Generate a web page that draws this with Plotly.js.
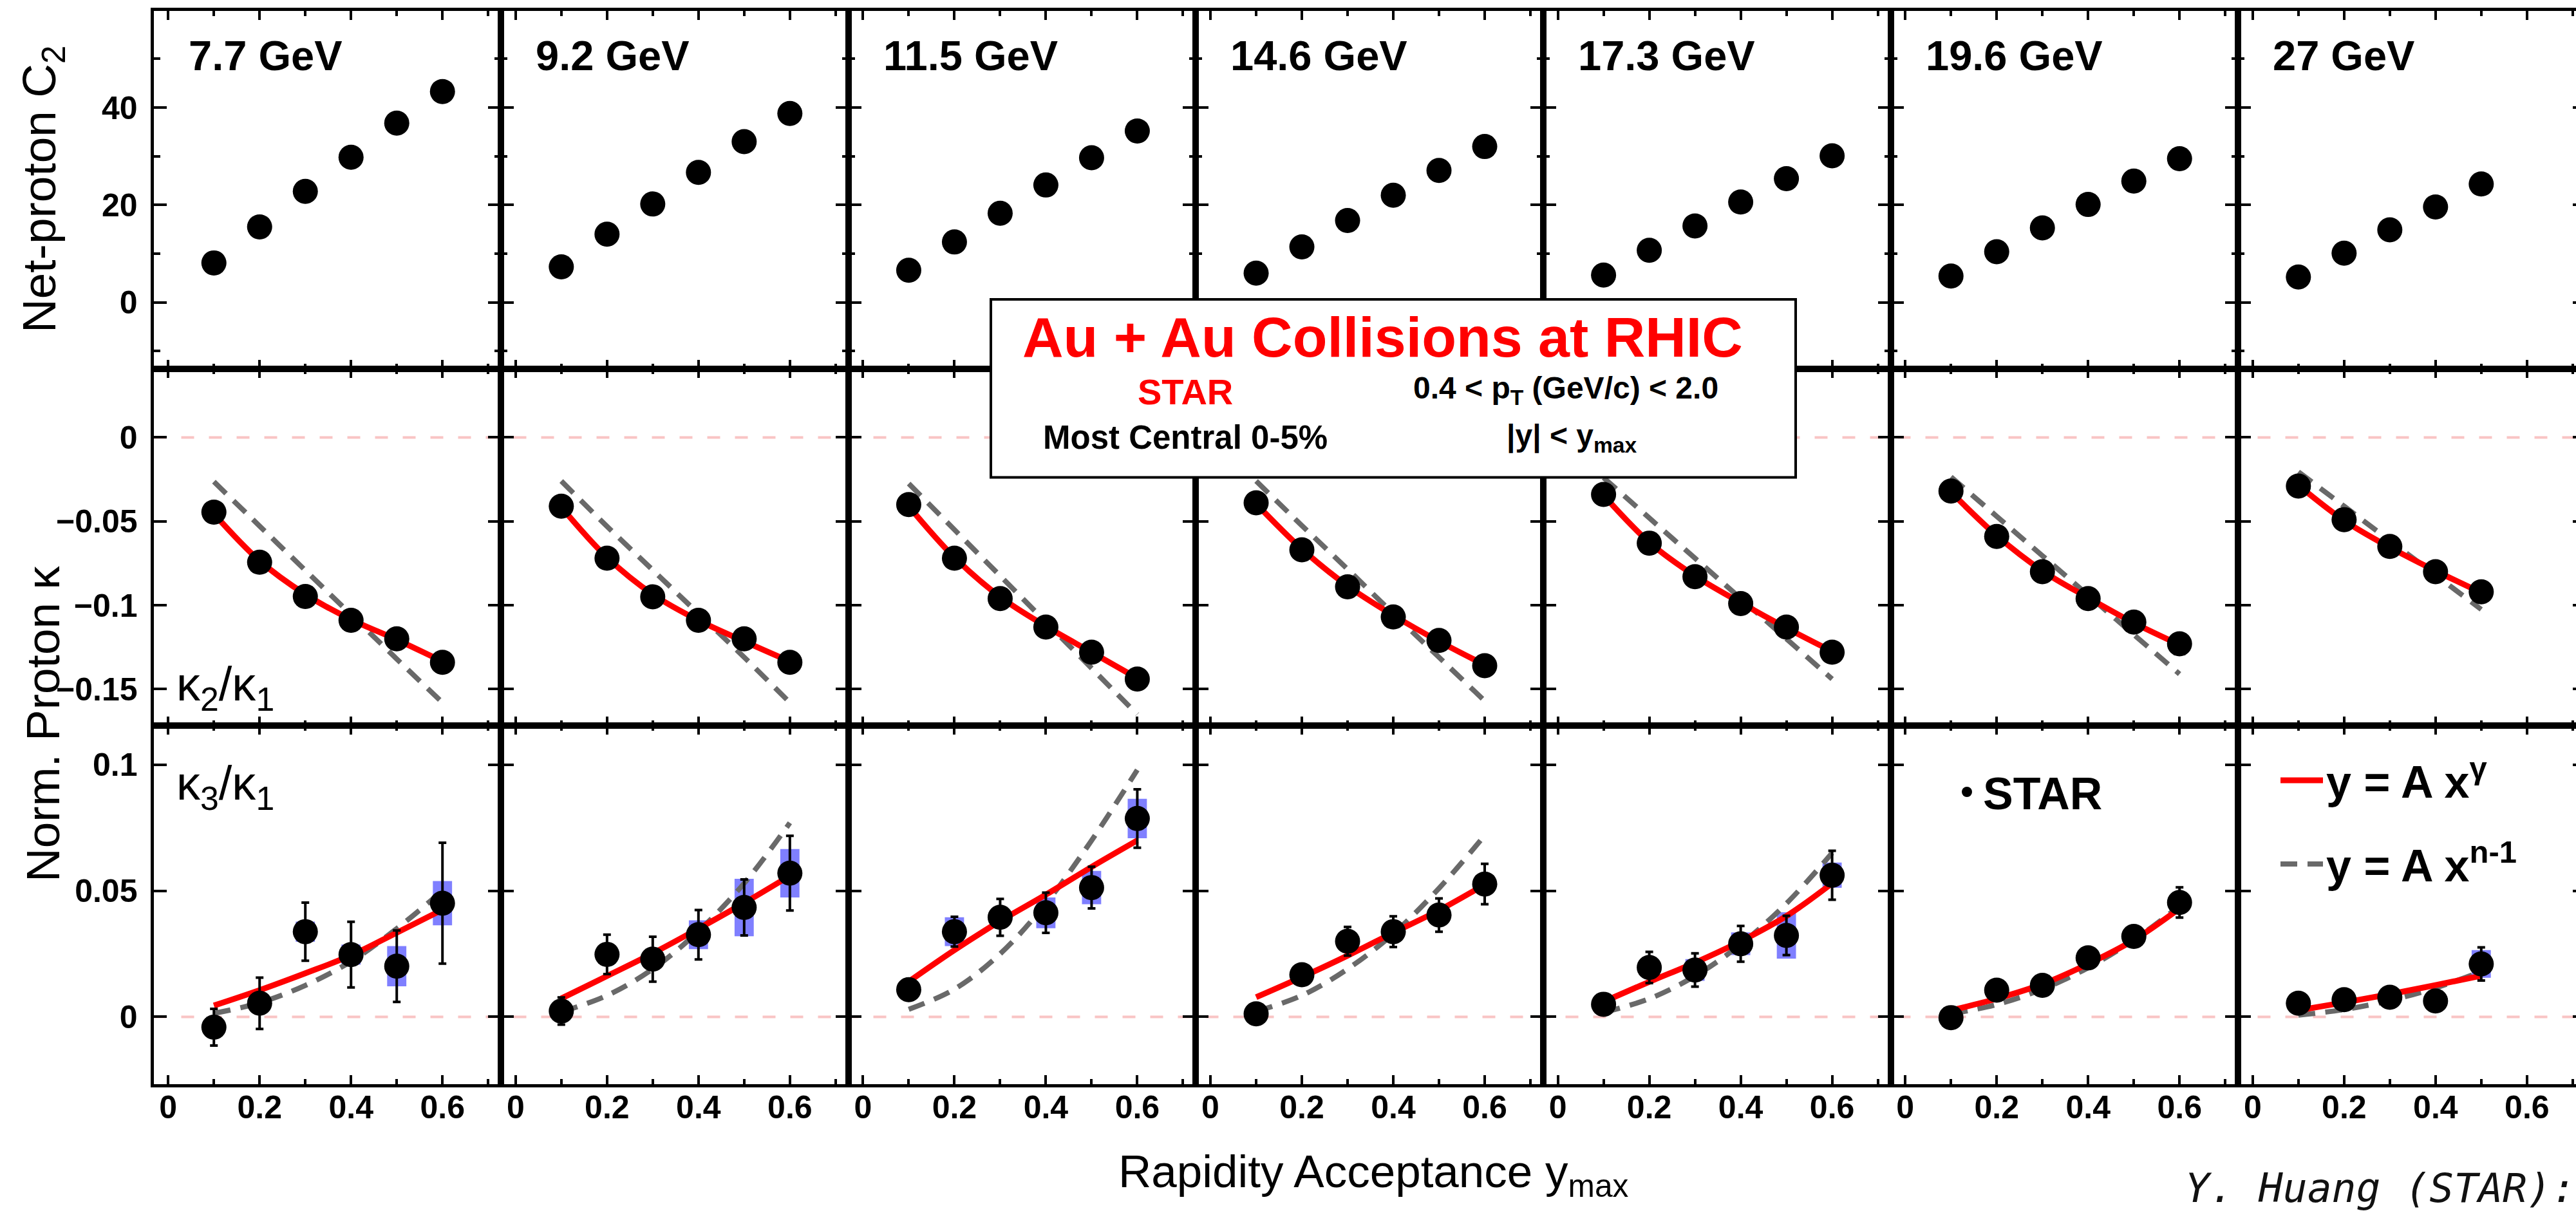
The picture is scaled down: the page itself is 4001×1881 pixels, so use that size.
<!DOCTYPE html>
<html><head><meta charset="utf-8">
<script src="https://cdn.plot.ly/plotly-3.0.1.min.js"></script>
<style>
html,body{margin:0;padding:0;background:#fff;overflow:hidden}
#wrap{width:4001px;height:1881px;overflow:hidden;position:relative}
#plot{width:4020px;height:1881px}
</style>
</head><body><div id="wrap"><div id="plot"></div></div>
<script>
// ---------------- DATA ----------------
const energies = ['7.7 GeV','9.2 GeV','11.5 GeV','14.6 GeV','17.3 GeV','19.6 GeV','27 GeV'];
const yMax6 = [0.1, 0.2, 0.3, 0.4, 0.5, 0.6];
const yMax5 = [0.1, 0.2, 0.3, 0.4, 0.5];

// Net-proton C2
const c2_7p7  = [8.1, 15.5, 22.8, 29.8, 36.8, 43.3];
const c2_9p2  = [7.3, 14.0, 20.2, 26.7, 33.0, 38.8];
const c2_11p5 = [6.6, 12.4, 18.3, 24.1, 29.7, 35.2];
const c2_14p6 = [6.0, 11.4, 16.8, 22.0, 27.1, 32.0];
const c2_17p3 = [5.6, 10.7, 15.7, 20.6, 25.4, 30.1];
const c2_19p6 = [5.4, 10.4, 15.3, 20.1, 24.9, 29.5];
const c2_27   = [5.2, 10.1, 14.9, 19.6, 24.3];

// Proton kappa2/kappa1 : data, fit y=A x^gamma (red), fit y=A x^(n-1) (dashed)
const k21_7p7  = [-0.0445, -0.0744, -0.0948, -0.109, -0.120, -0.134];
const k21_9p2  = [-0.041, -0.072, -0.095, -0.109, -0.120, -0.134];
const k21_11p5 = [-0.040, -0.072, -0.096, -0.113, -0.128, -0.144];
const k21_14p6 = [-0.039, -0.067, -0.089, -0.107, -0.121, -0.136];
const k21_17p3 = [-0.034, -0.063, -0.083, -0.099, -0.113, -0.128];
const k21_19p6 = [-0.032, -0.059, -0.080, -0.096, -0.110, -0.123];
const k21_27   = [-0.029, -0.049, -0.065, -0.080, -0.092];

const k21g_7p7  = [-0.0455, -0.0735, -0.0935, -0.1085, -0.1205, -0.1335];
const k21g_9p2  = [-0.0415, -0.0715, -0.0935, -0.109, -0.1215, -0.1335];
const k21g_11p5 = [-0.041, -0.0715, -0.095, -0.1125, -0.128, -0.1435];
const k21g_14p6 = [-0.0395, -0.0665, -0.0885, -0.106, -0.1215, -0.1355];
const k21g_17p3 = [-0.0345, -0.0625, -0.0825, -0.0985, -0.1135, -0.1275];
const k21g_19p6 = [-0.0325, -0.0585, -0.0795, -0.0955, -0.1105, -0.1235];
const k21g_27   = [-0.0285, -0.0495, -0.0655, -0.0795, -0.0925];

const k21n_7p7  = [-0.0264, -0.0528, -0.0792, -0.1056, -0.132, -0.158];
const k21n_9p2  = [-0.026, -0.053, -0.079, -0.105, -0.131, -0.158];
const k21n_11p5 = [-0.0275, -0.055, -0.0825, -0.110, -0.1375, -0.165];
const k21n_14p6 = [-0.026, -0.0525, -0.0785, -0.105, -0.131, -0.157];
const k21n_17p3 = [-0.024, -0.048, -0.072, -0.096, -0.120, -0.144];
const k21n_19p6 = [-0.0235, -0.047, -0.0705, -0.094, -0.1175, -0.141];
const k21n_27   = [-0.0205, -0.041, -0.0615, -0.082, -0.1025];

// Proton kappa3/kappa1 : data, stat. error, sys. error, fits
const k31_7p7  = [-0.0041, 0.0054, 0.0338, 0.0247, 0.0201, 0.0451];
const k31_9p2  = [0.0023, 0.0248, 0.0229, 0.0326, 0.0434, 0.057];
const k31_11p5 = [0.0108, 0.0338, 0.0395, 0.0413, 0.0513, 0.0787];
const k31_14p6 = [0.0012, 0.0167, 0.030, 0.0338, 0.0404, 0.0527];
const k31_17p3 = [0.005, 0.0196, 0.0186, 0.029, 0.0323, 0.0562];
const k31_19p6 = [-0.0003, 0.0106, 0.0125, 0.0234, 0.0319, 0.0454];
const k31_27   = [0.0054, 0.0068, 0.0078, 0.0063, 0.021];

const k31stat_7p7  = [0.0073, 0.0102, 0.0115, 0.013, 0.0142, 0.024];
const k31stat_9p2  = [0.0054, 0.0078, 0.0089, 0.0098, 0.0111, 0.0148];
const k31stat_11p5 = [0.002, 0.0059, 0.0073, 0.008, 0.0083, 0.0116];
const k31stat_14p6 = [0.002, 0.003, 0.0057, 0.0061, 0.0066, 0.008];
const k31stat_17p3 = [0.002, 0.0062, 0.0066, 0.0071, 0.0078, 0.0097];
const k31stat_19p6 = [0.002, 0.002, 0.0025, 0.003, 0.004, 0.006];
const k31stat_27   = [0.002, 0.002, 0.0025, 0.003, 0.0066];

const k31sys_7p7  = [0.001, 0.001, 0.004, 0.004, 0.008, 0.0088];
const k31sys_9p2  = [0.001, 0.001, 0.001, 0.0057, 0.0114, 0.0096];
const k31sys_11p5 = [0.001, 0.0057, 0.001, 0.0061, 0.0066, 0.0078];
const k31sys_14p6 = [0.001, 0.001, 0.001, 0.001, 0.003, 0.001];
const k31sys_17p3 = [0.001, 0.001, 0.0043, 0.0045, 0.0092, 0.005];
const k31sys_19p6 = [0.001, 0.001, 0.001, 0.001, 0.001, 0.003];
const k31sys_27   = [0.001, 0.003, 0.001, 0.003, 0.0055];

const k31g_7p7  = [0.0045, 0.0106, 0.0173, 0.0244, 0.0334, 0.0425];
const k31g_9p2  = [0.0073, 0.0162, 0.0252, 0.035, 0.0452, 0.056];
const k31g_11p5 = [0.014, 0.0265, 0.038, 0.0485, 0.0595, 0.070];
const k31g_14p6 = [0.0078, 0.0158, 0.0243, 0.0334, 0.0423, 0.0525];
const k31g_17p3 = [0.006, 0.0139, 0.0215, 0.030, 0.040, 0.053];
const k31g_19p6 = [0.0026, 0.0072, 0.013, 0.021, 0.0305, 0.043];
const k31g_27   = [0.0026, 0.0057, 0.009, 0.0126, 0.0163];

const k31n_7p7  = [0.0014, 0.0056, 0.0125, 0.022, 0.035, 0.050];
const k31n_9p2  = [0.002, 0.0085, 0.019, 0.034, 0.053, 0.077];
const k31n_11p5 = [0.003, 0.011, 0.025, 0.045, 0.070, 0.098];
const k31n_14p6 = [0.0022, 0.0085, 0.019, 0.033, 0.051, 0.072];
const k31n_17p3 = [0.0018, 0.0072, 0.0162, 0.0288, 0.045, 0.065];
const k31n_19p6 = [0.0012, 0.0049, 0.011, 0.0195, 0.0305, 0.044];
const k31n_27   = [0.0007, 0.0029, 0.0065, 0.0115, 0.018];

const xPoints = [yMax6, yMax6, yMax6, yMax6, yMax6, yMax6, yMax5];
const C2   = [c2_7p7, c2_9p2, c2_11p5, c2_14p6, c2_17p3, c2_19p6, c2_27];
const K21  = [k21_7p7, k21_9p2, k21_11p5, k21_14p6, k21_17p3, k21_19p6, k21_27];
const K21G = [k21g_7p7, k21g_9p2, k21g_11p5, k21g_14p6, k21g_17p3, k21g_19p6, k21g_27];
const K21N = [k21n_7p7, k21n_9p2, k21n_11p5, k21n_14p6, k21n_17p3, k21n_19p6, k21n_27];
const K31  = [k31_7p7, k31_9p2, k31_11p5, k31_14p6, k31_17p3, k31_19p6, k31_27];
const K31S = [k31stat_7p7, k31stat_9p2, k31stat_11p5, k31stat_14p6, k31stat_17p3, k31stat_19p6, k31stat_27];
const K31Y = [k31sys_7p7, k31sys_9p2, k31sys_11p5, k31sys_14p6, k31sys_17p3, k31sys_19p6, k31sys_27];
const K31G = [k31g_7p7, k31g_9p2, k31g_11p5, k31g_14p6, k31g_17p3, k31g_19p6, k31g_27];
const K31N = [k31n_7p7, k31n_9p2, k31n_11p5, k31n_14p6, k31n_17p3, k31n_19p6, k31n_27];

// ---------------- LAYOUT ----------------
const FONT = 'Liberation Sans, Arial, Helvetica, sans-serif';
const W = 4020, H = 1881;
const PL = 238.5, PW = 539.6;
const rowEdges = [[16.6, 572.5], [572.5, 1126.5], [1126.5, 1684]];
const yRanges = [[-13.6, 59.9], [-0.1715, 0.041], [-0.0267, 0.1157]];
const xRange = [-0.032, 0.728];
const px = p => p / W;
const py = p => 1 - p / H;

const RED = 'rgb(255,0,0)', GREY = 'rgb(105,105,105)', SYS = 'rgba(95,95,255,0.8)';
const layout = {
  width: W, height: H, margin: {l: 0, r: 0, t: 0, b: 0},
  paper_bgcolor: 'white', plot_bgcolor: 'rgba(0,0,0,0)',
  barmode: 'overlay', showlegend: true,
  font: {family: FONT, color: 'black'},
  annotations: [], shapes: [],
  legend: {x: px(3030), y: py(1178), xanchor: 'left', yanchor: 'top', bgcolor: 'rgba(0,0,0,0)',
           borderwidth: 0, itemwidth: 40, font: {family: FONT, size: 70, weight: 'bold', color: 'black'}},
  legend2: {x: px(3537), y: py(1160), xanchor: 'left', yanchor: 'top', bgcolor: 'rgba(0,0,0,0)',
            borderwidth: 0, itemwidth: 66, traceorder: 'grouped', tracegroupgap: 36,
            font: {family: FONT, size: 70, weight: 'bold', color: 'black'}}
};
const traces = [];

for (let r = 0; r < 3; r++) {
  for (let c = 0; c < 7; c++) {
    const k = r * 7 + c + 1;
    const sfx = k === 1 ? '' : String(k);
    const xid = 'x' + sfx, yid = 'y' + sfx;
    layout['xaxis' + sfx] = {
      domain: [px(PL + PW * c), px(PL + PW * (c + 1))], range: xRange, anchor: yid,
      showline: true, linewidth: 5, linecolor: 'black', mirror: 'ticks',
      ticks: 'inside', ticklen: 14, tickwidth: 4, tickcolor: 'black', tick0: 0, dtick: 0.2,
      minor: {ticks: 'inside', ticklen: 8, tickwidth: 4, dtick: 0.1, tickcolor: 'black'},
      showgrid: false, zeroline: false, showticklabels: r === 2, ticklabelstandoff: -12,
      tickfont: {family: FONT, size: 50, weight: 'bold', color: 'black'}, fixedrange: true
    };
    const yax = {
      domain: [py(rowEdges[r][1]), py(rowEdges[r][0])], range: yRanges[r], anchor: xid,
      showline: true, linewidth: 5, linecolor: 'black', mirror: 'ticks',
      ticks: 'inside', ticklen: 20, tickwidth: 4, tickcolor: 'black', tick0: 0,
      dtick: r === 0 ? 20 : 0.05,
      showgrid: false, zeroline: false, showticklabels: c === 0, ticklabelstandoff: 10,
      tickfont: {family: FONT, size: 50, weight: 'bold', color: 'black'}, fixedrange: true
    };
    if (r === 0) yax.minor = {ticks: 'inside', ticklen: 10, tickwidth: 4, dtick: 10, tickcolor: 'black'};
    layout['yaxis' + sfx] = yax;

    const xs = xPoints[c];
    const mk = {color: 'black', size: 39};
    if (r === 0) {
      traces.push({type: 'scatter', mode: 'markers', x: xs, y: C2[c], xaxis: xid, yaxis: yid,
                   marker: mk, showlegend: false});
    } else if (r === 1) {
      traces.push({type: 'scatter', mode: 'lines', x: xs, y: K21N[c], xaxis: xid, yaxis: yid,
                   line: {color: GREY, width: 8, dash: '26px,16px', shape: 'spline'}, showlegend: false});
      traces.push({type: 'scatter', mode: 'lines', x: xs, y: K21G[c], xaxis: xid, yaxis: yid,
                   line: {color: RED, width: 9, shape: 'spline'}, showlegend: false});
      traces.push({type: 'scatter', mode: 'markers', x: xs, y: K21[c], xaxis: xid, yaxis: yid,
                   marker: mk, showlegend: false});
    } else {
      const base = K31[c].map((v, i) => v - K31Y[c][i]);
      const hgt = K31Y[c].map(v => 2 * v);
      traces.push({type: 'bar', x: xs, y: hgt, base: base, width: 0.042, xaxis: xid, yaxis: yid,
                   marker: {color: SYS, line: {width: 0}}, showlegend: false, hoverinfo: 'skip'});
      traces.push({type: 'scatter', mode: 'lines', x: xs, y: K31N[c], xaxis: xid, yaxis: yid,
                   name: 'y = A x<sup>n-1</sup>', legend: 'legend2', legendgroup: 'gn', legendrank: 2,
                   line: {color: GREY, width: 8, dash: '26px,16px', shape: 'spline'}, showlegend: c === 6});
      traces.push({type: 'scatter', mode: 'lines', x: xs, y: K31G[c], xaxis: xid, yaxis: yid,
                   name: 'y = A x<sup>γ</sup>', legend: 'legend2', legendgroup: 'gg', legendrank: 1,
                   line: {color: RED, width: 9, shape: 'spline'}, showlegend: c === 6});
      traces.push({type: 'scatter', mode: 'markers', x: xs, y: K31[c], xaxis: xid, yaxis: yid,
                   name: 'STAR', legend: 'legend',
                   marker: mk, showlegend: c === 5,
                   error_y: {type: 'data', array: K31S[c], color: 'black', thickness: 4, width: 6}});
    }
  }
}
energies.forEach((e, c) => {
  layout.annotations.push({xref: 'paper', yref: 'paper', x: px(PL + PW * c + 52), y: py(87),
    xanchor: 'left', yanchor: 'middle', showarrow: false, text: '<b>' + e + '</b>',
    font: {family: FONT, size: 65, color: 'black'}});
});

// zero reference lines
['y8', 'y15'].forEach(yr => {
  layout.shapes.push({type: 'line', xref: 'paper', yref: yr, x0: px(PL), x1: 1, y0: 0, y1: 0,
    layer: 'below', line: {color: 'rgb(249,196,196)', width: 4, dash: '20px,23px'}});
});

// central info box
layout.shapes.push({type: 'rect', xref: 'paper', yref: 'paper', x0: px(1539), x1: px(2789),
  y0: py(741.5), y1: py(465), fillcolor: 'white', line: {color: 'black', width: 4}, layer: 'above'});

const ann = (x, y, text, size, opts) => Object.assign({xref: 'paper', yref: 'paper', x: px(x), y: py(y),
  text: text, showarrow: false, xanchor: 'center', yanchor: 'middle',
  font: {family: FONT, size: size, color: 'black'}}, opts || {});

layout.annotations.push(
  ann(2147.5, 523, '<b>Au + Au Collisions at RHIC</b>', 88, {font: {family: FONT, size: 88, color: 'rgb(255,0,0)'}}),
  ann(1841, 608, '<b>STAR</b>', 56, {font: {family: FONT, size: 56, color: 'rgb(255,0,0)'}}),
  ann(1841, 679, '<b>Most Central 0-5%</b>', 51),
  ann(2193, 606, '<b>0.4 &lt; p<sub>T</sub> (GeV/c) &lt; 2.0</b>', 48, {xanchor: 'left'}),
  ann(2338, 680, '<b>|y| &lt; y<sub>max</sub></b>', 48, {xanchor: 'left'}),
  ann(272, 1068, 'κ<sub>2</sub>/κ<sub>1</sub>', 74, {xanchor: 'left'}),
  ann(272, 1222, 'κ<sub>3</sub>/κ<sub>1</sub>', 74, {xanchor: 'left'}),
  ann(66, 294, 'Net-proton C<sub>2</sub>', 73, {textangle: -90}),
  ann(66, 1125, 'Norm. Proton κ', 73, {textangle: -90}),
  ann(1735, 1825, 'Rapidity Acceptance y<sub>max</sub>', 71, {xanchor: 'left'}),
  ann(3392, 1845, 'Y. Huang (STAR):', 63, {xanchor: 'left',
      font: {family: 'DejaVu Sans Mono, monospace', size: 63, style: 'italic', color: '#111'}})
);

Plotly.newPlot('plot', traces, layout, {displayModeBar: false, staticPlot: true, responsive: false});
</script></body></html>
